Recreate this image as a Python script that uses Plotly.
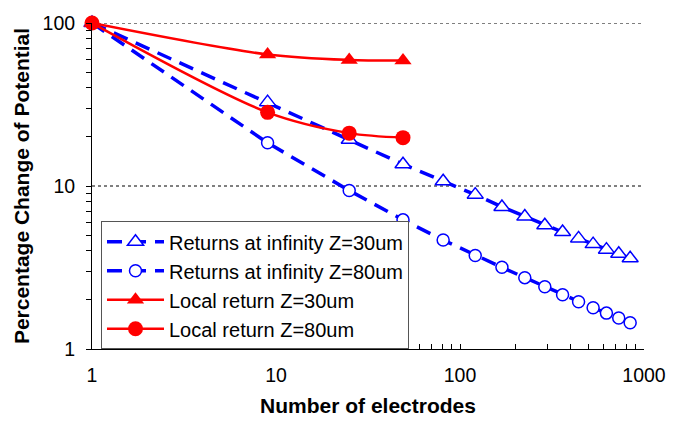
import plotly.graph_objects as go

# Number of electrodes in the array (square grids)
n_inf = [1, 9, 25, 49, 81, 121, 169, 225, 289, 361, 441, 529, 625, 729, 841]
n_local = [1, 9, 25, 49]

# Percentage change of potential, returns at infinity
inf_z30 = [100, 32.7, 19.2, 13.6, 10.7, 8.85, 7.44, 6.49, 5.74, 5.22, 4.77, 4.40, 4.07, 3.84, 3.60]
inf_z80 = [100, 18.4, 9.38, 6.2, 4.66, 3.75, 3.17, 2.74, 2.41, 2.15, 1.95, 1.79, 1.66, 1.55, 1.45]

# Percentage change of potential, local return
loc_z30 = [100, 64.1, 59.3, 58.8]
loc_z80 = [100, 28.3, 21.1, 19.8]

names = [
    "Returns at infinity Z=30um",
    "Returns at infinity Z=80um",
    "Local return Z=30um",
    "Local return Z=80um",
]

# tick positions: every integer multiple within each decade, labels on decades only
x_ticks = [m * 10 ** d for d in range(3) for m in range(1, 10)] + [1000]
y_ticks = [m * 10 ** d for d in range(2) for m in range(1, 10)] + [100]
x_text = [str(v) if v in (1, 10, 100, 1000) else "" for v in x_ticks]
y_text = [str(v) if v in (1, 10, 100) else "" for v in y_ticks]
grid_levels = [10, 100]

BLUE = "#0000ff"
RED = "#ff0000"
FONT = "Liberation Sans, Arial, Helvetica, sans-serif"

fig = go.Figure()

fig.add_trace(go.Scatter(
    x=n_inf, y=inf_z30, name=names[0], mode="lines+markers", legendgroup="a",
    line=dict(color=BLUE, width=3.5, dash="15px,9px"),
    marker=dict(symbol="triangle-up", size=14, color="white",
                line=dict(color=BLUE, width=1.5)),
    cliponaxis=False,
))
fig.add_trace(go.Scatter(
    x=n_inf, y=inf_z80, name=names[1], mode="lines+markers", legendgroup="b",
    line=dict(color=BLUE, width=3.5, dash="15px,9px"),
    marker=dict(symbol="circle", size=12, color="white",
                line=dict(color=BLUE, width=1.5)),
    cliponaxis=False,
))
fig.add_trace(go.Scatter(
    x=n_local, y=loc_z30, name=names[2], mode="lines+markers", legendgroup="c",
    line=dict(color=RED, width=2.5, shape="spline", smoothing=0.9),
    marker=dict(symbol="triangle-up", size=15, color=RED),
    cliponaxis=False,
))
fig.add_trace(go.Scatter(
    x=n_local, y=loc_z80, name=names[3], mode="lines+markers", legendgroup="d",
    line=dict(color=RED, width=2.5, shape="spline", smoothing=0.9),
    marker=dict(symbol="circle", size=15, color=RED),
    cliponaxis=False,
))

fig.update_layout(
    width=681, height=425,
    margin=dict(l=92, r=37, t=15, b=72),
    paper_bgcolor="white", plot_bgcolor="white",
    font=dict(family=FONT, color="black", size=19),
    showlegend=True,
    legend=dict(
        x=0.0163, y=0.392, xanchor="left", yanchor="top",
        bordercolor="#555555", borderwidth=1, bgcolor="white",
        font=dict(family=FONT, size=20),
        tracegroupgap=0, itemwidth=57,
    ),
    # dotted horizontal gridlines at the decades
    shapes=[dict(type="line", xref="paper", x0=0, x1=1, yref="y", y0=g, y1=g,
                 line=dict(color="black", width=1, dash="dot"), layer="below")
            for g in grid_levels],
)

fig.update_xaxes(
    type="log", range=[0, 3],
    tickmode="array", tickvals=x_ticks, ticktext=x_text,
    showline=True, linecolor="black", linewidth=1,
    ticks="inside", ticklen=5, tickcolor="black",
    showgrid=False, zeroline=False,
    tickfont=dict(size=19.5),
    ticklabelstandoff=9,
    title=dict(text="<b>Number of electrodes</b>", font=dict(size=21), standoff=12),
)
fig.update_yaxes(
    type="log", range=[0, 2],
    tickmode="array", tickvals=y_ticks, ticktext=y_text,
    showline=True, linecolor="black", linewidth=1,
    ticks="outside", ticklen=5, tickcolor="black",
    showgrid=False, zeroline=False,
    tickfont=dict(size=19.5),
    ticklabelstandoff=7,
    title=dict(text="<b>Percentage Change of Potential</b>", font=dict(size=21), standoff=7),
)

fig.write_html("out.html")
